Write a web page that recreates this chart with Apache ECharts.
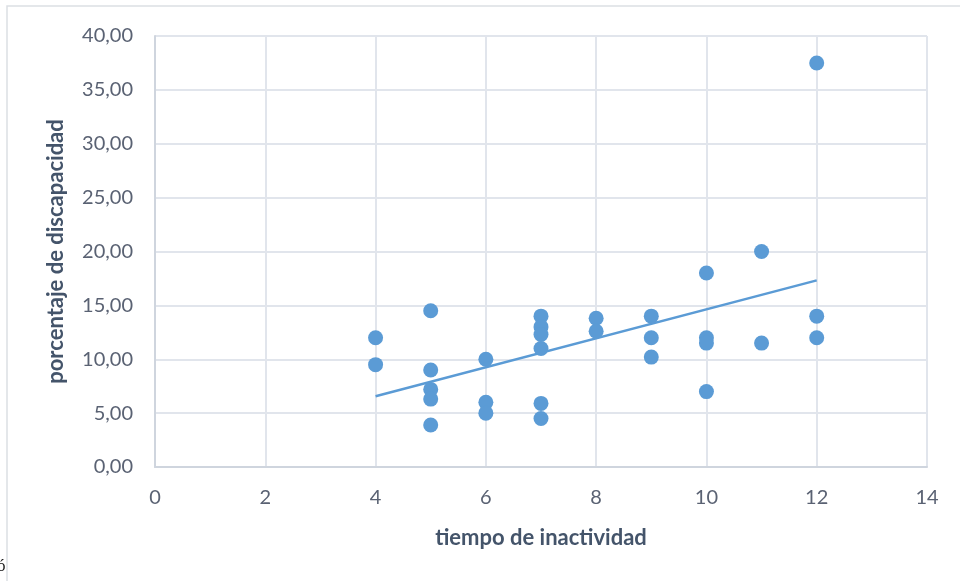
<!DOCTYPE html>
<html>
<head>
<meta charset="utf-8">
<script src="https://cdn.jsdelivr.net/npm/echarts@6/dist/echarts.min.js"></script>
<style>
html,body{margin:0;padding:0;background:#fff;}
#main{width:960px;height:581px;}
</style>
</head>
<body>
<div id="main"></div>
<script>
// tiempo de inactividad (x) and porcentaje de discapacidad (y)
const xValues = [4, 4, 5, 5, 5, 5, 5, 6, 6, 6, 7, 7, 7, 7, 7, 7, 8, 8, 9, 9, 9, 10, 10, 10, 10, 11, 11, 12, 12, 12];
const yValues = [12.0, 9.5, 14.5, 9.0, 7.2, 6.3, 3.9, 10.0, 6.0, 5.0, 14.0, 13.0, 12.3, 11.0, 5.9, 4.5, 13.8, 12.6, 14.0, 12.0, 10.2, 18.0, 12.0, 11.5, 7.0, 20.0, 11.5, 37.5, 14.0, 12.0];
const xTicks = [0, 2, 4, 6, 8, 10, 12, 14];
const yTicks = [0, 5, 10, 15, 20, 25, 30, 35, 40];
const xTitle = 'tiempo de inactividad';
const yTitle = 'porcentaje de discapacidad';

const points = xValues.map((x, i) => [x, yValues[i]]);
// linear regression trendline
const n = xValues.length;
const mx = xValues.reduce((a, b) => a + b, 0) / n;
const my = yValues.reduce((a, b) => a + b, 0) / n;
let sxy = 0, sxx = 0;
for (let i = 0; i < n; i++) { sxy += (xValues[i] - mx) * (yValues[i] - my); sxx += (xValues[i] - mx) ** 2; }
const slope = sxy / sxx, intercept = my - slope * mx;
const xMin = Math.min(...xValues), xMax = Math.max(...xValues);
const trend = [[xMin, intercept + slope * xMin], [xMax, intercept + slope * xMax]];

const chart = echarts.init(document.getElementById('main'), null, {renderer: 'canvas'});
const fontFam = 'Lato, "Open Sans", sans-serif';
chart.setOption({
  animation: false,
  backgroundColor: '#ffffff',
  graphic: [
    {type: 'rect', shape: {x: 7, y: 6, width: 1000, height: 600}, style: {fill: 'none', stroke: '#dcdfe4', lineWidth: 1.5}, silent: true},
    {type: 'text', left: -3, top: 558, style: {text: 'ó', fontSize: 17, fill: '#222', fontFamily: 'serif'}}
  ],
  grid: {left: 155, right: 33, top: 36, bottom: 114, containLabel: false},
  xAxis: {
    type: 'value', min: 0, max: 14, interval: 2,
    name: xTitle, nameLocation: 'middle', nameGap: 60,
    nameTextStyle: {fontFamily: fontFam, fontSize: 22, fontWeight: 'bold', color: '#44546a'},
    axisLine: {show: true, lineStyle: {color: '#cfd5de', width: 2}},
    axisTick: {show: false},
    axisLabel: {fontFamily: fontFam, fontSize: 20, color: '#5a6273', margin: 21,
      formatter: v => String(v)},
    splitLine: {show: true, lineStyle: {color: '#e1e5ec', width: 2}}
  },
  yAxis: {
    type: 'value', min: 0, max: 40, interval: 5,
    name: yTitle, nameLocation: 'middle', nameGap: 88, nameRotate: 90,
    nameTextStyle: {fontFamily: fontFam, fontSize: 22, fontWeight: 'bold', color: '#44546a'},
    axisLine: {show: true, lineStyle: {color: '#cfd5de', width: 2}},
    axisTick: {show: false},
    axisLabel: {fontFamily: fontFam, fontSize: 20, color: '#5a6273', margin: 22,
      formatter: v => v.toFixed(2).replace('.', ',')},
    splitLine: {show: true, lineStyle: {color: '#e1e5ec', width: 2}}
  },
  series: [
    {
      type: 'line', data: trend, showSymbol: false, symbol: 'none',
      lineStyle: {color: '#5b9bd5', width: 2.5}, z: 3, silent: true
    },
    {
      type: 'scatter', data: points, symbolSize: 15,
      itemStyle: {color: '#5b9bd5', opacity: 1}, z: 4
    }
  ]
});
</script>
</body>
</html>
